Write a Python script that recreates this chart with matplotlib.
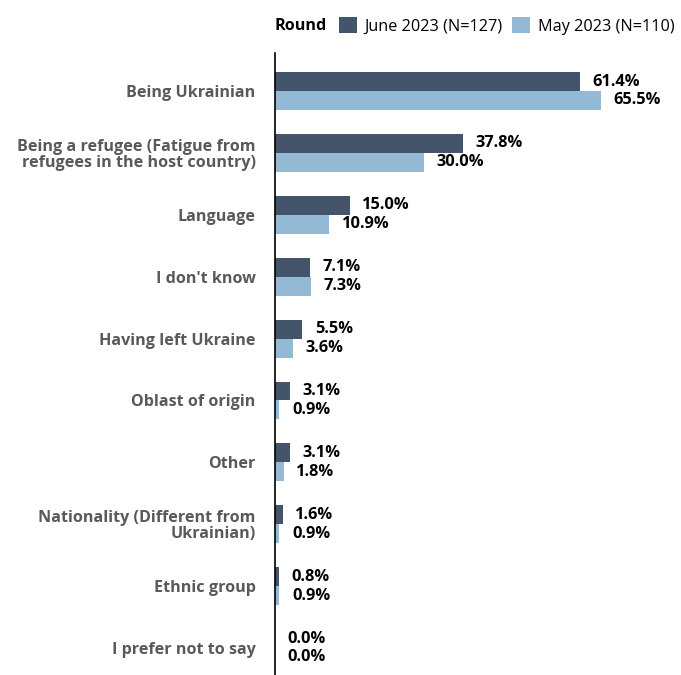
import matplotlib.pyplot as plt
import numpy as np
from matplotlib.offsetbox import HPacker

categories = [
    'Being Ukrainian',
    'Being a refugee (Fatigue from\nrefugees in the host country)',
    'Language',
    "I don't know",
    'Having left Ukraine',
    'Oblast of origin',
    'Other',
    'Nationality (Different from\nUkrainian)',
    'Ethnic group',
    'I prefer not to say',
]
june = [61.4, 37.8, 15.0, 7.1, 5.5, 3.1, 3.1, 1.6, 0.8, 0.0]
may = [65.5, 30.0, 10.9, 7.3, 3.6, 0.9, 1.8, 0.9, 0.9, 0.0]
series_names = ['June 2023 (N=127)', 'May 2023 (N=110)']

plt.rcParams['font.family'] = ['Open Sans', 'DejaVu Sans']

dark = '#44546a'
light = '#94b9d4'

fig = plt.figure(figsize=(6.81, 6.75), dpi=100)
ax = fig.add_axes([275 / 681, 0, 1 - 275 / 681, (675 - 53) / 675])

y = np.arange(len(categories))
h = 0.306
ax.barh(y - h / 2, june, height=h, color=dark, label=series_names[0])
ax.barh(y + h / 2, may, height=h, color=light, label=series_names[1])

for i in range(len(categories)):
    ax.annotate(f'{june[i]:.1f}%', (june[i], y[i] - h / 2), xytext=(9, 0),
                textcoords='offset points', va='center', ha='left',
                fontsize=11.8, fontweight='bold', color='black')
    ax.annotate(f'{may[i]:.1f}%', (may[i], y[i] + h / 2), xytext=(9, 0),
                textcoords='offset points', va='center', ha='left',
                fontsize=11.8, fontweight='bold', color='black')

ax.set_xlim(0, 406 / 4.97)
ax.set_ylim(9.436, -0.614)
ax.set_yticks(y)
ax.set_yticklabels(categories, fontsize=11.6, fontweight='bold', color='#595959',
                   linespacing=1.0)
ax.tick_params(axis='y', length=0, pad=14)
ax.set_xticks([])
for s in ['top', 'right', 'bottom']:
    ax.spines[s].set_visible(False)
ax.spines['left'].set_color('black')
ax.spines['left'].set_linewidth(1.2)

leg = fig.legend(loc='center left', bbox_to_anchor=(274 / 681, 1 - 26 / 675), ncol=2,
                 frameon=False, fontsize=11.7, title='Round', handlelength=1.1,
                 handleheight=1.1, handletextpad=0.5, columnspacing=0.55,
                 borderaxespad=0, borderpad=0)
leg.get_title().set_fontweight('bold')
leg.get_title().set_fontsize(11.6)
# put the title inline with the entries
leg._legend_box._children = [HPacker(children=list(leg._legend_box._children), pad=0, sep=9, align='center')]

fig.savefig('out.png', dpi=100)
